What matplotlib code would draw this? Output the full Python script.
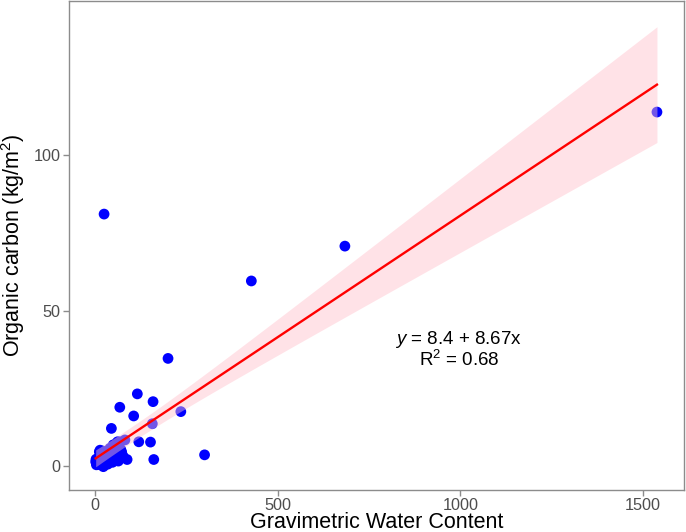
import numpy as np
import matplotlib
matplotlib.use("Agg")
import matplotlib.pyplot as plt

# water content vs organic carbon
gwc = [1538, 684, 428, 25, 200, 116, 159, 68, 106, 235,
       45, 157, 120, 152, 300, 161, 88, 64, 82, 62,
       55, 73, 41, 27, 14, 46, 32, 18, 9, 5,
       2, 12, 23, 59, 68, 50, 77, 59, 41, 32,
       10, 15, 20, 25, 30, 35, 38, 50, 55, 58,
       65, 70, 22, 8, 35, 48, 3, 15, 6, 11,
       17, 28, 36, 44, 52, 4, 7, 13, 19, 26,
       33, 40, 47, 57, 63]
carbon = [113.8, 70.7, 59.5, 81.0, 34.6, 23.2, 20.7, 18.9, 16.1, 17.5,
          12.1, 13.6, 7.8, 7.7, 3.6, 2.1, 2.1, 1.6, 8.4, 7.8,
          6.8, 4.6, 5.7, 4.1, 5.1, 3.0, 1.4, 0.3, 2.5, 0.9,
          1.4, 4.6, -0.2, 7.3, 7.8, 6.8, 3.2, 1.9, 3.0, 0.9,
          1.5, 2.2, 3.0, 1.0, 2.5, 3.5, 2.0, 4.5, 2.8, 5.8,
          6.3, 5.5, 4.8, 0.5, 0.6, 1.2, 2.2, 0.8, 1.8, 2.9,
          1.6, 2.7, 4.0, 3.8, 4.9, 0.4, 1.1, 1.9, 2.4, 3.3,
          2.1, 4.2, 2.6, 3.9, 4.4]

eq_text = "$y$ = 8.4 + 8.67x"
r2_text = "R$^2$ = 0.68"

plt.rcParams["font.family"] = ["Liberation Sans", "DejaVu Sans"]
plt.rcParams["mathtext.fontset"] = "custom"
plt.rcParams["mathtext.rm"] = "Liberation Sans"
plt.rcParams["mathtext.it"] = "Liberation Sans:italic"

x = np.array(gwc, dtype=float)
y = np.array(carbon, dtype=float)

# lm fit + 95% confidence band, like geom_smooth(method = "lm")
n = len(x)
slope, intercept = np.polyfit(x, y, 1)
resid = y - (intercept + slope * x)
s = np.sqrt(np.sum(resid ** 2) / (n - 2))
sxx = np.sum((x - x.mean()) ** 2)
xs = np.linspace(x.min(), x.max(), 80)
fit = intercept + slope * xs
se = s * np.sqrt(1 / n + (xs - x.mean()) ** 2 / sxx)
tq = 1.993

fig = plt.figure(figsize=(6.86, 5.32), dpi=100)
ax = fig.add_axes([69 / 686, 1 - 490 / 532, 615 / 686, 489 / 532])

ax.scatter(x, y, s=60, color="blue", edgecolors="none", zorder=2)
ax.fill_between(xs, fit - tq * se, fit + tq * se, color="pink", alpha=0.45,
                linewidth=0, zorder=3)
ax.plot(xs, fit, color="red", linewidth=1.7, zorder=4)

ax.text(996, 37.5, eq_text + "\n" + r2_text, ha="center", va="center",
        fontsize=13.5, color="black", linespacing=0.95, multialignment="center")

ax.set_xlim(-71, 1612)
ax.set_ylim(-7.7, 149.5)
ax.set_xticks([0, 500, 1000, 1500])
ax.set_yticks([0, 50, 100])

for sp in ax.spines.values():
    sp.set_color("#8c8c8c")
    sp.set_linewidth(1.0)
ax.tick_params(length=4, width=1.0, color="#8c8c8c", labelsize=11.7,
               labelcolor="#4d4d4d", pad=2)

ax.set_xlabel("Gravimetric Water Content", fontsize=15.5)
ax.set_ylabel("Organic carbon (kg/m$^2$)", fontsize=15.5)
ax.xaxis.set_label_coords(0.5, -0.045)
ax.yaxis.set_label_coords(-0.068, 0.5)

fig.savefig("out.png", dpi=100)
